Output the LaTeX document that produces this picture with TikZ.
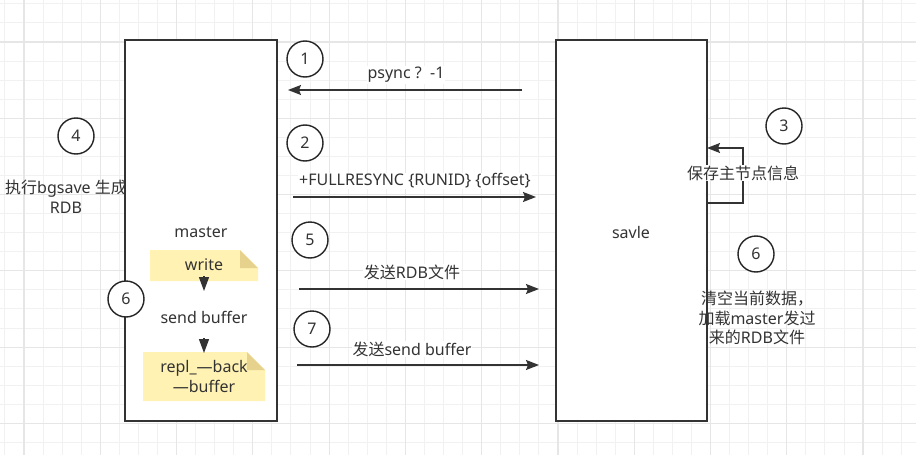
\documentclass[tikz,border=0pt]{standalone}
\usepackage{fontspec}
\setmainfont{Noto Sans}
\newfontfamily\cjkf{Noto Sans CJK SC}
\newcommand{\cjk}{\cjkf\fontsize{16}{19.5}\selectfont}
\usetikzlibrary{arrows.meta,calc}
\definecolor{ink}{HTML}{333333}
\definecolor{txt}{HTML}{333333}
\definecolor{gridminor}{HTML}{F1F1F1}
\definecolor{gridmajor}{HTML}{E6E6E6}
\definecolor{noteyellow}{HTML}{FFF2B3}
\definecolor{folddark}{HTML}{E6D28C}
\tikzset{
  box/.style={draw=ink, line width=1.5pt, fill=white, inner sep=0pt},
  num/.style={circle, draw=black!85, line width=1.4pt, fill=white, minimum size=36pt, inner sep=0pt, text=txt},
  lbl/.style={text=txt, inner sep=1pt, align=center},
  arr/.style={draw=ink, line width=1.3pt, -{Stealth[length=13pt,width=10pt,inset=2pt]}},
  tip/.style={draw=ink, line width=1.3pt, -{Triangle[length=14pt,width=10pt]}},
  minorg/.style={draw=gridminor, line width=1pt},
  majorg/.style={draw=gridmajor, line width=1.2pt},
}
\begin{document}
\begin{tikzpicture}[x=1pt,y=-1pt,font=\fontsize{16}{19.5}\selectfont]
\useasboundingbox (0,0) rectangle (916,455);
\fill[white] (0,0) rectangle (916,455);
% grid
\foreach \i in {0,...,48} {\draw[minorg] ({4.93+19.07*\i},0) -- ({4.93+19.07*\i},455);}
\foreach \i in {0,...,24} {\draw[minorg] (0,{3.86+19.07*\i}) -- (916,{3.86+19.07*\i});}
\foreach \i in {0,...,11} {\draw[majorg] ({24+76.28*\i},0) -- ({24+76.28*\i},455);}
\foreach \i in {0,...,5} {\draw[majorg] (0,{42+76.28*\i}) -- (916,{42+76.28*\i});}

% main boxes
\node[box, minimum width=152pt, minimum height=381pt] (master) at (201,230.5) {};
\node[box, minimum width=151pt, minimum height=381pt] (slave) at (631.5,230.5) {};
\node[lbl] (mlabel) at (201,232) {master};
\node[lbl] (slabel) at (631,232) {savle};

% notes
\fill[noteyellow] (150,250) -- (240,250) -- (258,268) -- (258,281) -- (150,281) -- cycle;
\fill[folddark] (240,250) -- (258,268) -- (240,268) -- cycle;
\fill[noteyellow] (143,352) -- (247,352) -- (265,370) -- (265,401) -- (143,401) -- cycle;
\fill[folddark] (247,352) -- (265,370) -- (247,370) -- cycle;
\node[lbl] (write) at (204,265) {write};
\node[lbl] (sendbuf) at (204,317) {send buffer};
\node[lbl] (repl) at (204,376.5) {repl\_—back\\—buffer};
\coordinate (w1) at (204,276);
\coordinate (w2) at (204,291);
\coordinate (s1) at (204,338);
\coordinate (s2) at (204,353);
\draw[tip] (w1) -- (w2);
\draw[tip] (s1) -- (s2);

% circles
\node[num] (c1) at (305,59) {1};
\node[num] (c2) at (305,143) {2};
\node[num] (c3) at (784,126) {3};
\node[num] (c4) at (76,136) {4};
\node[num] (c5) at (310,240) {5};
\node[num] (c6l) at (126,299) {6};
\node[num] (c7) at (312,329) {7};
\node[num] (c6r) at (756,254) {6};

% arrows
\coordinate (a1s) at (522,90);  \coordinate (a1e) at (288,90);
\coordinate (a2s) at (293,197); \coordinate (a2e) at (536,197);
\coordinate (a5s) at (299,289); \coordinate (a5e) at (539,289);
\coordinate (a7s) at (297,365); \coordinate (a7e) at (539,365);
\draw[arr] (a1s) -- (a1e);
\draw[arr] (a2s) -- (a2e);
\draw[arr] (a5s) -- (a5e);
\draw[arr] (a7s) -- (a7e);
\node[lbl, fill=white] (t1) at (406,75) {psync ?\ \ -1};
\node[lbl, fill=white] (t2) at (415,181) {+FULLRESYNC \{RUNID\} \{offset\}};
\node[lbl, fill=white] (t5) at (412,272) {{\cjk 发送}RDB{\cjk 文件}};
\node[lbl, fill=white] (t7) at (412,349) {{\cjk 发送}send buffer};

% self loop
\coordinate (l1) at (707,203);
\coordinate (l2) at (707,148);
\draw[arr] (l1) -- (743,203) -- (743,148) -- (l2);
\node[lbl, fill=white] (t3) at (743,173) {\cjk 保存主节点信息};

% side texts
\node[lbl] (t4) at (66,197) {{\cjk 执行}bgsave {\cjk 生成}\\RDB};
\node[lbl] (t6) at (757,318) {{\cjk 清空当前数据，}\\{\cjk 加载}master{\cjk 发过}\\{\cjk 来的}RDB{\cjk 文件}};
\end{tikzpicture}
\end{document}
